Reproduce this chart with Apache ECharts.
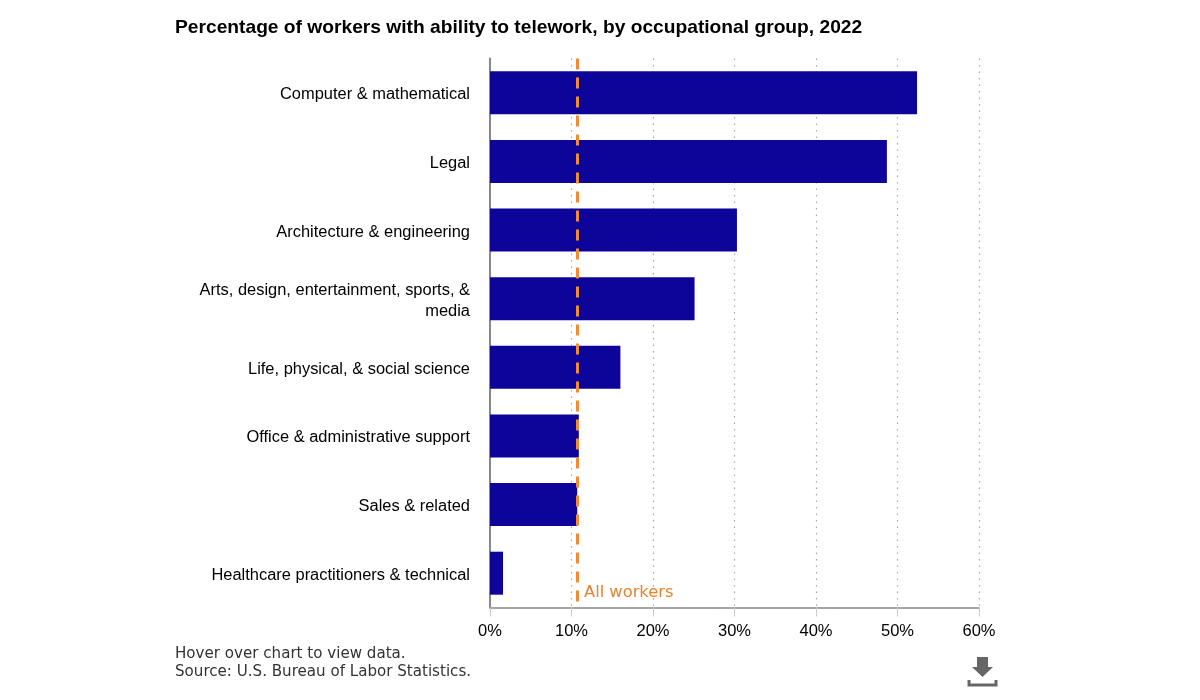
<!DOCTYPE html>
<html>
<head>
<meta charset="utf-8">
<style>html,body{margin:0;padding:0;background:#fff}#c{width:1200px;height:700px}</style>
<script src="https://cdn.jsdelivr.net/npm/echarts@6/dist/echarts.min.js"></script>
</head>
<body>
<div id="c"></div>
<script>
const categories = [
  "Computer & mathematical",
  "Legal",
  "Architecture & engineering",
  "Arts, design, entertainment, sports, &\nmedia",
  "Life, physical, & social science",
  "Office & administrative support",
  "Sales & related",
  "Healthcare practitioners & technical"
];
const values = [52.4, 48.7, 30.3, 25.1, 16.0, 10.9, 10.7, 1.6];
const allWorkers = 10.7;
const chart = echarts.init(document.getElementById('c'), null, {renderer: 'canvas'});
chart.setOption({
  animation: false,
  backgroundColor: '#fff',
  title: {
    text: 'Percentage of workers with ability to telework, by occupational group, 2022',
    left: 170, top: 13,
    textStyle: {fontFamily: 'Liberation Sans', fontSize: 19.22, fontWeight: 'bold', color: '#000'}
  },
  grid: [
    {left: 490, top: 58.5, width: 489, height: 549, containLabel: false},
    {left: 490, top: 60.5, width: 489, height: 549, containLabel: false}
  ],
  xAxis: [{
    type: 'value', min: 0, max: 60, interval: 10,
    axisLine: {show: true, lineStyle: {color: '#888', width: 1.5}},
    axisTick: {show: true, length: 9, lineStyle: {color: '#c5ccd8', width: 1}},
    axisLabel: {formatter: '{value}%', fontFamily: 'Liberation Sans', fontSize: 16.5, color: '#000', margin: 15, hideOverlap: false},
    splitLine: {show: true, lineStyle: {type: [1.5, 5], color: '#a8a8a8', width: 1.2}}
  }, {
    type: 'value', gridIndex: 1, min: 0, max: 60, show: false
  }],
  yAxis: [{
    type: 'category', inverse: true, data: categories,
    axisLine: {show: true, lineStyle: {color: '#888', width: 2}},
    axisTick: {show: false},
    axisLabel: {show: false}
  }, {
    type: 'category', gridIndex: 1, inverse: true, data: categories,
    axisLine: {show: false},
    axisTick: {show: false},
    splitLine: {show: false},
    axisLabel: {fontFamily: 'Liberation Sans', fontSize: 16.45, color: '#000', margin: 20, lineHeight: 21, align: 'right', interval: 0}
  }],
  series: [{
    type: 'bar', data: values, barWidth: 43,
    itemStyle: {color: '#0d0499'},
    markLine: {
      silent: true, symbol: 'none', z: 10,
      lineStyle: {color: '#f08c35', type: [11, 8], width: 3},
      label: {show: false},
      data: [{xAxis: allWorkers}]
    }
  }],
  graphic: [
    {type: 'text', left: 584, top: 585, silent: true,
     style: {text: 'All workers', font: '16.3px "DejaVu Sans"', fill: '#e8822e'}},
    {type: 'text', left: 175, top: 645, silent: true,
     style: {text: 'Hover over chart to view data.\nSource: U.S. Bureau of Labor Statistics.', font: '15.1px "DejaVu Sans"', lineHeight: 18, fill: '#333'}},
    {type: 'polygon', silent: true,
     shape: {points: [[977,657],[988,657],[988,667],[993,667],[982.5,677],[972,667],[977,667]]},
     style: {fill: '#666'}},
    {type: 'polyline', silent: true,
     shape: {points: [[969,680],[969,685],[996,685],[996,680]]},
     style: {stroke: '#666', fill: null, lineWidth: 3}}
  ]
});
</script>
</body>
</html>
